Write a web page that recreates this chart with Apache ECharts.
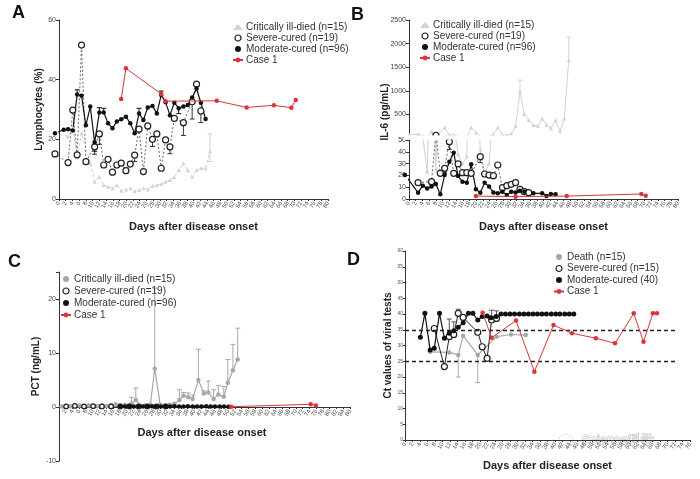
<!DOCTYPE html>
<html><head><meta charset="utf-8">
<script src="https://cdn.jsdelivr.net/npm/echarts@6/dist/echarts.min.js"></script>
<style>html,body{margin:0;padding:0;background:#fff}#c{width:700px;height:479px}</style>
</head><body><div id="c"></div>
<script>
const FONT = '"Liberation Sans", Arial, Helvetica, sans-serif';

// ---------- Panel A: Lymphocytes (%) ----------
const aCritical = [[-1.2,22],[2.7,21],[4.1,24],[5.4,14],[6.7,22],[9.3,12],[10.6,5.8],[12.0,7.5],[13.3,4.7],[14.6,4.1],[15.9,3.6],[17.2,4.7],[18.5,2.8],[19.9,3.2],[21.2,3.6],[22.5,2.7],[23.8,3],[25.1,3.6],[26.4,3.2],[27.8,4.4],[29.1,4.7],[30.4,5],[31.7,5.8],[33.0,6.4],[34.3,7.3],[35.6,9.7],[37.0,12],[38.3,9.7],[39.6,7.5],[40.9,9.7],[42.2,10.3],[43.6,10.3],[44.9,15.9]];
const aSevere = [[-1.2,15.1],[2.7,12.2],[4.1,29.8],[5.4,14.8],[6.7,51.6],[8.0,12.5],[10.6,17.5],[12.0,21.8],[13.3,11.4],[14.6,13.3],[15.9,9],[17.2,11.4],[18.5,12],[19.9,9.5],[21.2,11.7],[22.5,14.7],[23.8,23.4],[25.1,9.2],[26.4,24.5],[27.8,20],[29.1,21.8],[30.4,10.3],[31.7,19.8],[33.0,17.5],[34.3,27],[37.0,25.6],[39.6,32.6],[40.9,38.5],[42.2,29.5]];
const aModerate = [[-1.2,22],[1.4,23.2],[2.7,23.4],[4.1,23],[5.4,35],[6.7,34.6],[8.0,24.7],[9.3,31],[10.6,19],[12.0,29],[13.3,29],[14.6,25.4],[15.9,23.7],[17.2,26],[18.5,26.7],[19.9,27.6],[21.2,25.4],[22.5,22],[23.8,28.7],[25.1,26.5],[26.4,30.7],[27.8,31.2],[29.1,28.7],[30.4,34.9],[31.7,32.4],[33.0,28.1],[34.3,32.3],[35.6,30.4],[37.0,31],[38.3,31.5],[39.6,34],[40.9,37],[42.2,32.3],[43.6,26.8]];
const aCase1 = [[18.5,33.5],[19.9,43.8],[30.4,35.2],[31.7,32.8],[46.9,32.9],[55.8,30.7],[63.9,31.4],[69.1,30.6],[70.4,33.2]];
// error bars [day, mean, end]
const aSevereErr = [[10.6,17.5,15],[12.0,21.8,18.3],[22.5,14.7,12.6],[27.8,20,17.6],[33.0,17.5,15.2],[37.0,25.6,21.3],[39.6,32.6,26.8],[42.2,29.5,25.6]];
const aModerateErr = [[5.4,35,36.6],[10.6,19,16],[12.0,29,30.6],[13.3,29,30.4],[23.8,28.7,30.4],[30.4,34.9,36.2],[35.6,30.4,28.6]];
const aCriticalErr = [[44.9,15.9,21.8],[44.9,15.9,12.6]];

// ---------- Panel B: IL-6 (pg/mL), broken axis ----------
const bCritical = [[0.1,65],[2.7,85],[5.4,23],[6.7,140],[8.0,25],[10.6,225],[12.0,63],[13.3,63],[14.6,38],[15.9,30],[17.2,36],[18.5,225],[19.9,113],[21.2,42],[22.5,22],[23.8,30],[25.1,77],[26.4,225],[27.8,63],[29.1,63],[30.4,90],[31.7,254],[33.0,979],[34.3,507],[35.6,380],[37.0,275],[38.3,254],[39.6,415],[40.9,275],[42.2,204],[43.6,380],[44.9,148],[46.2,415],[47.5,1648]];
const bSevere = [[2.7,13.8],[6.7,14.7],[8.0,55],[9.3,21.8],[10.6,26],[12.0,48.6],[13.3,21.8],[14.6,29.7],[15.9,22.3],[17.2,22.3],[18.5,21.8],[21.2,35.9],[22.5,21.2],[23.8,20.3],[25.1,19.8],[26.4,28.8],[27.8,9.6],[29.1,11.3],[30.4,12.4],[31.7,13.8],[33.0,8.2],[34.3,6.2],[35.6,5.4]];
const bModerate = [[-1.2,20.3],[2.7,5.4],[4.1,11.3],[5.4,9],[6.7,10.5],[8.0,12.7],[9.3,4],[10.6,20.3],[12.0,31.6],[13.3,39.3],[14.6,19.5],[15.9,14.7],[17.2,13.8],[18.5,29.4],[19.9,8.2],[21.2,5.4],[22.5,13.8],[23.8,10.5],[25.1,5.6],[26.4,4.8],[27.8,6.2],[29.1,3.4],[30.4,6.2],[31.7,5.6],[33.0,7],[34.3,6.2],[37.0,4.8],[39.6,4.8],[40.9,2.5],[42.2,4.2],[43.6,4]];
const bCase1 = [[19.9,2.5],[31.7,2],[46.9,2.5],[69.1,4.2],[70.4,2.8]];
const bCriticalErr = [[33.0,979,1225],[47.5,1648,2140]];
const bSevereErr = [[10.6,26,22],[21.2,35.9,31],[12.0,48.6,42]];

// ---------- Panel C: PCT (ng/mL) ----------
const cCritical = [[0.8,0.1],[2.1,0.2],[3.5,0.15],[4.7,0.3],[6.1,0.3],[7.4,0.2],[8.8,0.3],[10.1,0.25],[11.5,0.2],[12.7,0.3],[14.1,0.2],[15.4,0.35],[16.8,0.5],[18.1,0.3],[19.5,0.4],[21.4,0.6],[22.7,1.3],[24.0,0.3],[25.4,0.3],[27.0,0.4],[28.3,7.1],[29.9,0.4],[31.3,0.3],[32.6,0.4],[34.1,0.6],[35.6,1.3],[36.8,2.1],[38.2,1.8],[39.5,1.5],[41.2,5],[42.8,2.5],[44.1,2.7],[45.7,1.5],[47.1,2.3],[48.7,1.9],[49.9,4.5],[51.4,6.8],[52.8,8.8]];
const cSevere = [[2.1,0.1],[4.7,0.2],[7.4,0.1],[10.1,0.15],[12.7,0.1],[15.4,0.1],[18.1,0.1],[20.8,0.1],[23.5,0.1],[26.1,0.1],[28.8,0.1],[31.5,0.1]];
const cModerate = [[18.1,0.1],[19.5,0.1],[20.8,0.15],[22.1,0.1],[23.5,0.1],[24.8,0.1],[26.1,0.1],[27.5,0.15],[28.8,0.1],[30.1,0.1],[31.5,0.15],[32.8,0.1],[34.1,0.15],[35.5,0.1],[36.8,0.1],[38.1,0.15],[39.5,0.1],[40.8,0.1],[42.1,0.1],[43.5,0.15],[44.8,0.1],[46.1,0.1],[47.5,0.1],[48.8,0.1],[50.1,0.05]];
const cCase1 = [[50.9,0.05],[74.4,0.5],[75.9,0.3]];
const cCriticalErr = [[21.4,0.6,1.8],[22.7,1.3,3.5],[28.3,7.1,22],[35.6,1.3,3.2],[36.8,2.1,2.7],[38.2,1.8,2.6],[39.5,1.5,2.2],[41.2,5,10.7],[42.8,2.5,3],[44.1,2.7,4.8],[45.7,1.5,3.2],[47.1,2.3,4],[48.7,1.9,3.8],[49.9,4.5,8.8],[51.4,6.8,11.6],[52.8,8.8,14.6]];

// ---------- Panel D: Ct values of viral tests ----------
const dDeath = [[6.7,28],[11.8,27.8],[14.2,27],[15.5,33.1],[19.4,27],[24.4,32.8],[28.3,33.5],[32.2,33.3]];
const dSevere = [[7.8,35.4],[10.5,23.3],[11.8,32.8],[13.0,33.5],[14.2,40.2],[15.5,38.9],[19.4,34.2],[20.6,29.6],[21.9,25.9],[23.1,38.1],[24.4,38.6]];
const dModerate = [[4.1,32.6],[5.3,40.2],[6.7,28.6],[7.8,29.1],[9.2,40.2],[10.5,32.3],[11.8,33.9],[13.0,34.7],[14.2,35.8],[15.5,37.2],[16.9,40.2],[18.1,40.2],[19.4,38.1],[20.6,39.2],[21.9,39.4],[22.9,38.8],[24.3,39.2],[25.6,40],[26.8,40],[28.0,40],[29.2,40],[30.5,40],[31.7,40],[32.9,40],[34.1,40],[35.3,40],[36.5,40],[37.7,40],[39.0,40],[40.2,40],[41.3,40],[42.6,40],[43.8,40],[45.0,40]];
const dCase1 = [[20.7,40.4],[23.1,32.5],[29.6,37.9],[34.5,21.7],[39.6,36.5],[44.5,33.9],[50.9,32.3],[56.0,30.7],[61.0,40.2],[63.6,31.2],[66.1,40.2],[67.2,40.2]];
const dDeathErr = [[14.2,27,20],[19.4,27,18.2]];
const dSevereErr = [[11.8,32.8,38.4],[13.0,33.5,37.5],[14.2,40.2,41.5],[23.1,38.1,41.2],[24.4,38.6,41]];
const dRefLines = [35, 25];
const dRefEnd = 72;

// ---------- names ----------
const N_CRIT = 'Critically ill-died (n=15)';
const N_SEV = 'Severe-cured (n=19)';
const N_MOD = 'Moderate-cured (n=96)';
const N_CASE = 'Case 1';
const N_DEATH = 'Death (n=15)';
const N_DSEV = 'Severe-cured (n=15)';
const N_DMOD = 'Moderate-cured (40)';
const X_TITLE = 'Days after disease onset';

const RED = '#d9343a';
const LGRAY = '#d2d2d2';
const MGRAY = '#a8a8a8';

function xAxisCfg(gi, max, opts) {
  return Object.assign({
    type: 'value', gridIndex: gi, min: 0, max: max, interval: 2,
    axisLine: {show: true, onZero: false, lineStyle: {color: '#333', width: 1}},
    axisTick: {show: true, length: 2, lineStyle: {color: '#333'}},
    axisLabel: {fontSize: 6, color: '#555', rotate: 60, margin: 3, fontFamily: FONT},
    splitLine: {show: false},
    name: X_TITLE, nameLocation: 'middle', nameGap: 22,
    nameTextStyle: {fontSize: 11, fontWeight: 'bold', color: '#222', fontFamily: FONT}
  }, opts || {});
}
function yAxisCfg(gi, min, max, interval, opts) {
  return Object.assign({
    type: 'value', gridIndex: gi, min: min, max: max, interval: interval,
    axisLine: {show: true, onZero: false, lineStyle: {color: '#333', width: 1}},
    axisTick: {show: true, length: 3, lineStyle: {color: '#333'}},
    axisLabel: {fontSize: 7, color: '#444', margin: 3, fontFamily: FONT},
    splitLine: {show: false},
    nameLocation: 'middle', nameRotate: 90,
    nameTextStyle: {fontSize: 10, fontWeight: 'bold', color: '#222', fontFamily: FONT}
  }, opts || {});
}
function lineS(name, data, xi, yi, o) {
  return Object.assign({
    name: name, type: 'line', xAxisIndex: xi, yAxisIndex: yi, data: data,
    showAllSymbol: true, animation: false, silent: true
  }, o);
}
const sevStyle = {symbol: 'circle', symbolSize: 6, itemStyle: {color: '#fff', borderColor: '#222', borderWidth: 1.2}};
const modStyle = {symbol: 'circle', symbolSize: 4.5, itemStyle: {color: '#111'}, lineStyle: {color: '#111', width: 1.2}};
const caseStyle = {symbol: 'circle', symbolSize: 4.5, itemStyle: {color: RED}, lineStyle: {color: RED, width: 1}, z: 5};

function errS(data, xi, yi, color) {
  return {
    type: 'custom', xAxisIndex: xi, yAxisIndex: yi, data: data, silent: true, animation: false, z: 1,
    encode: {x: 0, y: [1, 2]},
    renderItem: function (params, api) {
      const x = api.value(0), lo = api.value(1), hi = api.value(2);
      const p1 = api.coord([x, lo]), p2 = api.coord([x, hi]);
      const w = 2.5;
      return {type: 'group', children: [
        {type: 'line', shape: {x1: p1[0], y1: p1[1], x2: p2[0], y2: p2[1]}, style: {stroke: color, lineWidth: 1}},
        {type: 'line', shape: {x1: p2[0] - w, y1: p2[1], x2: p2[0] + w, y2: p2[1]}, style: {stroke: color, lineWidth: 1}}
      ]};
    }
  };
}
const hideLow = function (v) { return v[1] < 50 ? 0 : 4; };
const hideLowSev = function (v) { return v[1] < 50 ? 0 : 6; };

const legendBase = {orient: 'vertical', itemWidth: 10, itemHeight: 6, itemGap: 1, selectedMode: false,
  textStyle: {fontSize: 10, color: '#333', fontFamily: FONT, padding: [0, 0, 0, -2]}, padding: 0};
function legendItems(nc, ns, nm, gIcon, gColor) {
  return [
    {name: nc, icon: gIcon, itemStyle: {color: gColor}},
    {name: ns, icon: 'circle', itemStyle: {color: '#fff', borderColor: '#222', borderWidth: 1.2}},
    {name: nm, icon: 'circle', itemStyle: {color: '#111'}},
    {name: N_CASE}
  ];
}

const option = {
  backgroundColor: '#fff',
  animation: false,
  textStyle: {fontFamily: FONT},
  grid: [
    {left: 59, top: 20, width: 269, height: 179},   // A
    {left: 409, top: 20, width: 269, height: 118},  // B upper
    {left: 409, top: 140, width: 269, height: 59},  // B lower
    {left: 59, top: 272, width: 291, height: 189},  // C
    {left: 405, top: 251, width: 285, height: 189}  // D
  ],
  xAxis: [
    xAxisCfg(0, 80),
    xAxisCfg(1, 80, {show: false}),
    xAxisCfg(2, 80),
    xAxisCfg(3, 86, {name: '', position: 'bottom', offset: -54,
      axisLabel: {fontSize: 6, color: '#555', rotate: 60, margin: 3, fontFamily: FONT,
        formatter: function (v) { return v === 0 ? '' : v; }}}),
    xAxisCfg(4, 76, {nameGap: 20})
  ],
  yAxis: [
    yAxisCfg(0, 0, 60, 20, {name: 'Lymphocytes (%)', nameGap: 15}),
    yAxisCfg(1, 0, 2500, 500, {axisLabel: {fontSize: 7, color: '#444', margin: 3, fontFamily: FONT,
      formatter: function (v) { return v === 0 ? '' : v; }}}),
    yAxisCfg(2, 0, 50, 10),
    yAxisCfg(3, -10, 25, 10, {name: 'PCT (ng/mL)', nameGap: 18,
      axisLabel: {fontSize: 7, color: '#444', margin: 3, fontFamily: FONT,
        formatter: function (v) { return v % 10 === 0 ? v : ''; }}}),
    yAxisCfg(4, 0, 60, 5, {name: 'Ct values of viral tests', nameGap: 12,
      axisLabel: {fontSize: 5, color: '#555', margin: 2, fontFamily: FONT}, axisTick: {show: true, length: 2, lineStyle: {color: '#333'}}})
  ],
  legend: [
    Object.assign({}, legendBase, {left: 232, top: 22, data: legendItems(N_CRIT, N_SEV, N_MOD, 'triangle', LGRAY)}),
    Object.assign({}, legendBase, {left: 419, top: 20, data: legendItems(N_CRIT, N_SEV, N_MOD, 'triangle', LGRAY)}),
    Object.assign({}, legendBase, {left: 60, top: 274, itemGap: 2, data: legendItems(N_CRIT, N_SEV, N_MOD, 'circle', MGRAY)}),
    Object.assign({}, legendBase, {left: 553, top: 252, itemGap: 1.5, data: legendItems(N_DEATH, N_DSEV, N_DMOD, 'circle', MGRAY)})
  ],
  graphic: [
    {type: 'text', left: 12, top: 4, style: {text: 'A', fontSize: 18, fontWeight: 'bold', fill: '#111', fontFamily: FONT}},
    {type: 'text', left: 351, top: 6, style: {text: 'B', fontSize: 18, fontWeight: 'bold', fill: '#111', fontFamily: FONT}},
    {type: 'text', left: 8, top: 253, style: {text: 'C', fontSize: 18, fontWeight: 'bold', fill: '#111', fontFamily: FONT}},
    {type: 'text', left: 347, top: 251, style: {text: 'D', fontSize: 18, fontWeight: 'bold', fill: '#111', fontFamily: FONT}},
    {type: 'text', x: 385, y: 112, rotation: Math.PI / 2,
      style: {text: 'IL-6 (pg/mL)', fontSize: 10, fontWeight: 'bold', fill: '#222', fontFamily: FONT, align: 'center', verticalAlign: 'middle'}},
    {type: 'text', x: 202, y: 433,
      style: {text: X_TITLE, fontSize: 11, fontWeight: 'bold', fill: '#222', fontFamily: FONT, align: 'center', verticalAlign: 'middle'}},
    // axis break gap of panel B
    {type: 'rect', shape: {x: 404, y: 135.4, width: 290, height: 4.2}, style: {fill: '#fff'}, z: 100},
    {type: 'circle', shape: {cx: 566, cy: 441, r: 7}, style: {fill: 'none', stroke: '#c8c8c8', lineWidth: 1, lineDash: [2, 2]}},
    {type: 'text', left: 581, top: 433, style: {text: 'Science科学', fontSize: 13, fill: '#fff', stroke: '#b5b5b5', lineWidth: 1, fontFamily: FONT}}
  ],
  series: [
    // A
    errS(aCriticalErr, 0, 0, LGRAY),
    errS(aSevereErr, 0, 0, '#333'),
    errS(aModerateErr, 0, 0, '#111'),
    lineS(N_CRIT, aCritical, 0, 0, {symbol: 'triangle', symbolSize: 4, clip: false, itemStyle: {color: LGRAY}, lineStyle: {color: LGRAY, width: 1, type: [3, 2]}}),
    lineS(N_SEV, aSevere, 0, 0, Object.assign({clip: false, lineStyle: {color: '#555', width: 0.9, type: [2, 2]}}, sevStyle)),
    lineS(N_MOD, aModerate, 0, 0, Object.assign({clip: false}, modStyle)),
    lineS(N_CASE, aCase1, 0, 0, caseStyle),
    // B upper
    errS(bCriticalErr, 1, 1, LGRAY),
    lineS(N_CRIT, bCritical, 1, 1, {symbol: 'triangle', symbolSize: hideLow, clip: true, itemStyle: {color: LGRAY}, lineStyle: {color: LGRAY, width: 1}}),
    lineS(N_SEV, bSevere, 1, 1, Object.assign({}, sevStyle, {symbolSize: hideLowSev, clip: true, lineStyle: {color: '#555', width: 0.9, type: [2, 2]}})),
    // B lower
    errS(bSevereErr, 2, 2, '#333'),
    lineS(N_CRIT, bCritical, 2, 2, {symbol: 'triangle', symbolSize: 4, clip: true, itemStyle: {color: LGRAY}, lineStyle: {color: LGRAY, width: 1}}),
    lineS(N_SEV, bSevere, 2, 2, Object.assign({clip: true, lineStyle: {color: '#555', width: 0.9, type: [2, 2]}}, sevStyle)),
    lineS(N_MOD, bModerate, 2, 2, Object.assign({clip: false}, modStyle)),
    lineS(N_CASE, bCase1, 2, 2, caseStyle),
    // C
    errS(cCriticalErr, 3, 3, MGRAY),
    lineS(N_CRIT, cCritical, 3, 3, {symbol: 'circle', symbolSize: 4.5, itemStyle: {color: MGRAY}, lineStyle: {color: MGRAY, width: 1.2}}),
    lineS(N_SEV, cSevere, 3, 3, Object.assign({}, sevStyle, {symbolSize: 4.5, lineStyle: {color: '#666', width: 0.8}})),
    lineS(N_MOD, cModerate, 3, 3, Object.assign({}, modStyle, {symbolSize: 4.5, lineStyle: {color: '#111', width: 1.5}})),
    lineS(N_CASE, cCase1, 3, 3, caseStyle),
    // D
    errS(dDeathErr, 4, 4, MGRAY),
    errS(dSevereErr, 4, 4, '#555'),
    lineS(N_DEATH, dDeath, 4, 4, {symbol: 'circle', symbolSize: 4.5, itemStyle: {color: MGRAY}, lineStyle: {color: MGRAY, width: 1.2}}),
    lineS(N_DSEV, dSevere, 4, 4, Object.assign({}, sevStyle, {lineStyle: {color: '#222', width: 1}})),
    lineS(N_DMOD, dModerate, 4, 4, Object.assign({}, modStyle, {symbolSize: 5})),
    lineS(N_CASE, dCase1, 4, 4, Object.assign({}, caseStyle, {
      markLine: {silent: true, symbol: 'none', animation: false, label: {show: false},
        lineStyle: {type: [4, 3], color: '#222', width: 1.3},
        data: dRefLines.map(function (v) { return [{coord: [0, v]}, {coord: [dRefEnd, v]}]; })}
    }))
  ]
};
const chart = echarts.init(document.getElementById('c'));
chart.setOption(option);
</script>
</body></html>
